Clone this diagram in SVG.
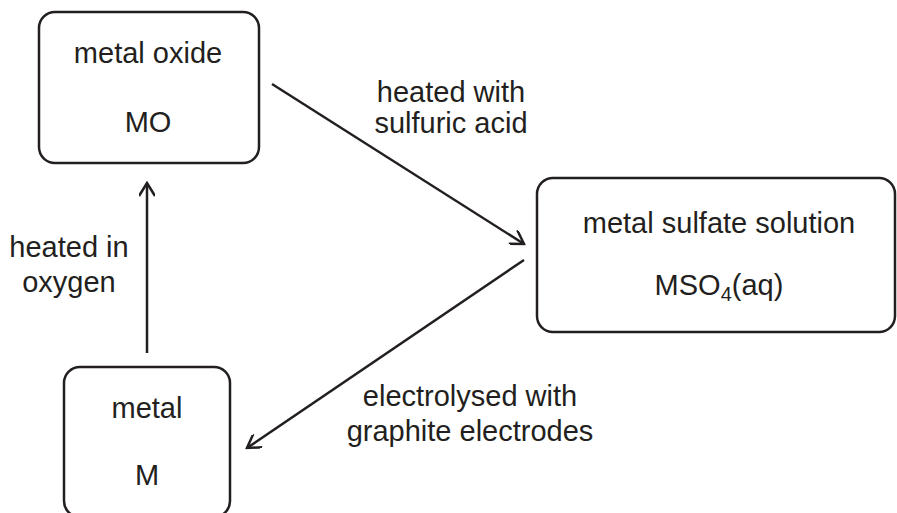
<svg xmlns="http://www.w3.org/2000/svg" width="897" height="513" viewBox="0 0 897 513">
<style>
.box{fill:#fff;stroke:#231f20;stroke-width:2.5}
.t{font-family:"Liberation Sans",Arial,sans-serif;font-size:29px;fill:#231f20;text-anchor:middle}
.c{stroke:#231f20;stroke-width:2.5;fill:none}
</style>
<defs>
<marker id="ah" markerWidth="16" markerHeight="16" viewBox="-14 -8 16 16" refX="0" refY="0" orient="auto" markerUnits="userSpaceOnUse">
<path d="M-13,-8 L0,0 L-13,8" fill="none" stroke="#231f20" stroke-width="2.5"/>
</marker>
</defs>
<rect width="897" height="513" fill="#fff"/>
<g id="node-metal-oxide">
<rect class="box" x="39" y="12" width="220" height="151" rx="16"/>
<text class="t" x="148" y="63">metal oxide</text>
<text class="t" x="148" y="132">MO</text>
</g>
<g id="node-sulfate">
<rect class="box" x="537" y="178" width="358" height="154" rx="16"/>
<text class="t" x="719" y="233">metal sulfate solution</text>
<text class="t" x="719" y="295">MSO<tspan font-size="20" dy="6">4</tspan><tspan dy="-6">(aq)</tspan></text>
</g>
<g id="node-metal">
<rect class="box" x="64" y="367" width="166" height="150" rx="16"/>
<text class="t" x="147" y="418">metal</text>
<text class="t" x="147" y="485">M</text>
</g>
<g id="connectors">
<line class="c" x1="272" y1="84" x2="524" y2="244" marker-end="url(#ah)"/>
<line class="c" x1="524" y1="260" x2="247" y2="448" marker-end="url(#ah)"/>
<line class="c" x1="147" y1="353" x2="147" y2="183" marker-end="url(#ah)"/>
</g>
<g id="labels">
<text class="t" x="451" y="102">heated with</text>
<text class="t" x="451" y="133">sulfuric acid</text>
<text class="t" x="470" y="406">electrolysed with</text>
<text class="t" x="470" y="441">graphite electrodes</text>
<text class="t" x="69" y="257">heated in</text>
<text class="t" x="69" y="292">oxygen</text>
</g>
</svg>
